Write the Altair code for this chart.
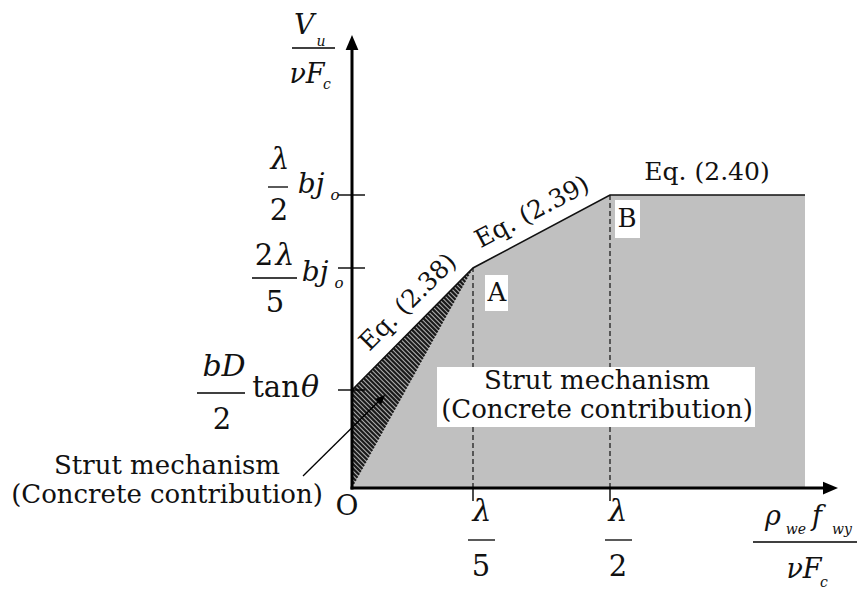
import altair as alt
import numpy as np
import pandas as pd

# Drawing units: 1 unit = 1 px of drawing space, origin at O, y pointing up.
# Shear strength envelope V_u/(νF_c) versus ρ_we f_wy/(νF_c)
env_x = [0, 121, 258, 453]          # O, λ/5, λ/2, end of plateau
env_y = [0, 220, 293, 293]          # lower boundary of the gray region
cap_x = [0, 121, 258, 453]
cap_y = [98, 220, 293, 293]         # bD/2·tanθ, 2λ/5·bj_o, λ/2·bj_o, plateau
strut_x = [0, 121]
strut_top = [98, 220]
strut_bot = [0, 220]

x_tick_pos = [121, 258]             # λ/5, λ/2
y_tick_pos = [98, 220, 293]         # bD/2 tanθ, 2λ/5 bj_o, λ/2 bj_o

x_axis_len = 486
y_axis_len = 453

FONT = "DejaVu Serif"
XS = alt.Scale(domain=[-352, 506], range=[0, 858], nice=False, zero=False)
YS = alt.Scale(domain=[-106, 488], range=[594, 0], nice=False, zero=False)


def X(f="x"):
    return alt.X(f"{f}:Q", scale=XS, axis=None)


def Y(f="y"):
    return alt.Y(f"{f}:Q", scale=YS, axis=None)


# gray region under O-A-B-plateau
gray = alt.Chart(pd.DataFrame({"x": env_x, "y": env_y, "b": [0] * 4})).mark_area(
    color="#c0c0c0", opacity=1
).encode(x=X(), y=Y(), y2=alt.Y2("b:Q"))

# hatched strut wedge between the two lines meeting at A
wedge_df = pd.DataFrame({"x": strut_x, "y": strut_top, "b": strut_bot})
wedge = alt.Chart(wedge_df).mark_area(color="#b0b0b0", opacity=1).encode(
    x=X(), y=Y(), y2=alt.Y2("b:Q")
)

# hatch lines x + y = c clipped to the wedge
k_up = (strut_top[1] - strut_top[0]) / (strut_x[1] - strut_x[0])
k_lo = (strut_bot[1] - strut_bot[0]) / (strut_x[1] - strut_x[0])
rows = []
for c in np.arange(2.0, strut_x[1] + strut_top[1], 4.6):
    if c <= strut_top[0]:
        x1, y1 = 0.0, c
    else:
        x1 = (c - strut_top[0]) / (1 + k_up)
        y1 = strut_top[0] + k_up * x1
    x2 = c / (1 + k_lo)
    y2 = k_lo * x2
    rows.append({"x": x1, "y": y1, "x2": x2, "y2": y2})
hatch = alt.Chart(pd.DataFrame(rows)).mark_rule(color="#1a1a1a", strokeWidth=2.2).encode(
    x=X(), y=Y(), x2=alt.X2("x2:Q"), y2=alt.Y2("y2:Q")
)

# dashed verticals at λ/5 and λ/2
dash_df = pd.DataFrame({"x": x_tick_pos, "y": [0, 0], "y2": [220, 293]})
dashes = alt.Chart(dash_df).mark_rule(color="#111", strokeWidth=1.2, strokeDash=[5, 3]).encode(
    x=X(), y=Y(), y2=alt.Y2("y2:Q")
)

# upper envelope line
cap = alt.Chart(pd.DataFrame({"x": cap_x, "y": cap_y})).mark_line(
    color="#111", strokeWidth=1.6
).encode(x=X(), y=Y())

# axes
axes_df = pd.DataFrame({
    "x": [0, 0], "y": [0, 0],
    "x2": [0, x_axis_len - 7], "y2": [y_axis_len - 7, 0],
})
axes = alt.Chart(axes_df).mark_rule(color="#000", strokeWidth=3, strokeCap="square").encode(
    x=X(), y=Y(), x2=alt.X2("x2:Q"), y2=alt.Y2("y2:Q")
)
arrow_up = alt.Chart(pd.DataFrame({"x": [0], "y": [y_axis_len - 7.5]})).mark_point(
    shape="M0,-1L0.85,1L-0.85,1Z", size=225, filled=True, color="#000", opacity=1
).encode(x=X(), y=Y())
arrow_right = alt.Chart(pd.DataFrame({"x": [x_axis_len - 7.5], "y": [0]})).mark_point(
    shape="M1,0L-1,0.85L-1,-0.85Z", size=225, filled=True, color="#000", opacity=1
).encode(x=X(), y=Y())

# tick marks
yt = alt.Chart(pd.DataFrame({"y": y_tick_pos, "x": [-14] * 3, "x2": [13] * 3})).mark_rule(
    color="#000", strokeWidth=1.4
).encode(x=X(), x2=alt.X2("x2:Q"), y=Y())
xt = alt.Chart(pd.DataFrame({"x": x_tick_pos, "y": [0, 0], "y2": [-13, -13]})).mark_rule(
    color="#000", strokeWidth=1.4
).encode(x=X(), y=Y(), y2=alt.Y2("y2:Q"))

# white label backgrounds
boxes_df = pd.DataFrame({
    "x": [133, 263, 85], "x2": [156, 288, 403],
    "y": [177, 250, 61], "y2": [213, 288, 121],
})
boxes = alt.Chart(boxes_df).mark_rect(color="white", opacity=1).encode(
    x=X(), x2=alt.X2("x2:Q"), y=Y(), y2=alt.Y2("y2:Q")
)

# fraction bars
bars_df = pd.DataFrame({
    "x": [-60, -84, -100, -155, 116, 253, 401],
    "x2": [-17, -64, -55, -107, 143, 280, 505],
    "y": [440, 301, 210, 95, -52, -52, -54],
})
bars = alt.Chart(bars_df).mark_rule(color="#000", strokeWidth=1.3).encode(
    x=X(), x2=alt.X2("x2:Q"), y=Y()
)

# leader from the left annotation into the wedge
leader = alt.Chart(pd.DataFrame({"x": [-49], "y": [12], "x2": [28], "y2": [88]})).mark_rule(
    color="#000", strokeWidth=1.3
).encode(x=X(), y=Y(), x2=alt.X2("x2:Q"), y2=alt.Y2("y2:Q"))
leader_tip = alt.Chart(pd.DataFrame({"x": [28], "y": [88]})).mark_point(
    shape="M1,-1L0.2,0.9L-0.9,-0.2Z", size=110, filled=True, color="#000", opacity=1
).encode(x=X(), y=Y())

roman = pd.DataFrame([
    ("2", -73, 277, 29, 0), ("2", -88, 232, 29, 0), ("5", -77, 185, 29, 0),
    ("2", -130, 68, 29, 0), ("tan", -76, 100, 29, 0), ("O", -5, -19, 28, 0),
    ("5", 129, -79, 29, 0), ("2", 266, -79, 29, 0),
    ("Eq. (2.38)", 56, 186, 25, -45), ("Eq. (2.39)", 180, 276, 25, -28),
    ("Eq. (2.40)", 355, 316, 25, 0),
    ("A", 145, 195, 26, 0), ("B", 275, 269, 26, 0),
    ("Strut mechanism", 245, 107, 26, 0), ("(Concrete contribution)", 245, 78, 26, 0),
    ("Strut mechanism", -185, 22, 26, 0), ("(Concrete contribution)", -185, -7, 26, 0),
], columns=["text", "x", "y", "size", "angle"])

italic = pd.DataFrame([
    ("V", -48, 462, 28), ("u", -31, 446, 14), ("νF", -45, 413, 27), ("c", -25, 403, 14),
    ("λ", -72, 328, 30), ("bj", -41, 303, 28), ("o", -17, 293, 15),
    ("λ", -67, 232, 30), ("bj", -37, 215, 28), ("o", -13, 205, 15),
    ("bD", -128, 121, 30), ("θ", -42, 100, 30),
    ("λ", 130, -24, 30), ("λ", 266, -24, 30),
    ("ρ", 421, -29, 27), ("we", 444, -42, 14), ("f", 465, -29, 27), ("wy", 490, -42, 14),
    ("νF", 452, -82, 27), ("c", 472, -95, 14),
], columns=["text", "x", "y", "size"])


def text_layer(df, style):
    enc = dict(
        x=X(), y=Y(), text="text:N",
        size=alt.Size("size:Q", scale=None, legend=None),
    )
    if "angle" in df:
        enc["angle"] = alt.Angle("angle:Q", scale=None)
    return alt.Chart(df).mark_text(
        font=FONT, fontStyle=style, align="center", baseline="middle", color="#111"
    ).encode(**enc)


chart = alt.layer(
    gray, wedge, hatch, dashes, cap, leader, leader_tip, axes, arrow_up, arrow_right,
    yt, xt, boxes, bars, text_layer(roman, "normal"), text_layer(italic, "italic"),
).properties(
    width=858, height=594, padding=0, autosize=alt.AutoSizeParams(type="none"),
    background="white",
).configure_view(stroke=None)

chart.save("out.html", embed_options={"renderer": "svg", "actions": False})
